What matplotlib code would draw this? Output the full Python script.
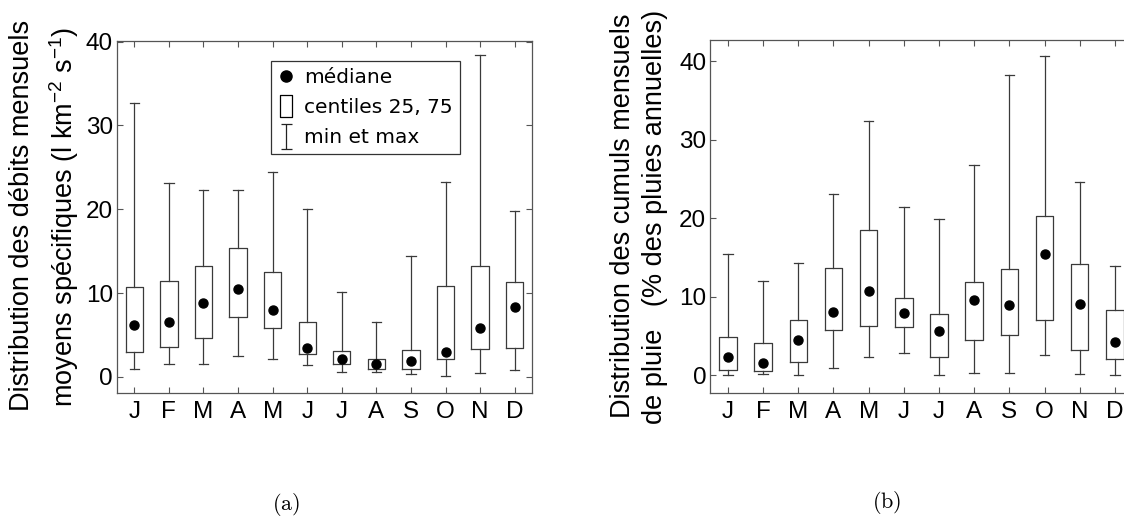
import matplotlib.pyplot as plt
from matplotlib.lines import Line2D
from matplotlib.path import Path

plt.rcParams['font.family'] = ['Liberation Sans', 'DejaVu Sans']
plt.rcParams['mathtext.fontset'] = 'custom'
plt.rcParams['mathtext.rm'] = 'Liberation Sans'
plt.rcParams['mathtext.default'] = 'regular'

MONTHS = ['J', 'F', 'M', 'A', 'M', 'J', 'J', 'A', 'S', 'O', 'N', 'D']

# (a) debits mensuels specifiques (l km-2 s-1)
deb_min = [0.95, 1.6, 1.5, 2.5, 2.15, 1.45, 0.6, 0.6, 0.32, 0.16, 0.48, 0.83]
deb_q25 = [3.0, 3.6, 4.7, 7.1, 5.8, 2.8, 1.5, 0.95, 0.95, 2.1, 3.3, 3.4]
deb_med = [6.2, 6.6, 8.8, 10.5, 7.95, 3.4, 2.15, 1.5, 1.9, 3.0, 5.85, 8.4]
deb_q75 = [10.7, 11.5, 13.3, 15.35, 12.5, 6.6, 3.05, 2.15, 3.2, 10.85, 13.3, 11.35]
deb_max = [32.7, 23.2, 22.3, 22.3, 24.5, 20.0, 10.1, 6.6, 14.4, 23.3, 38.4, 19.85]

# (b) cumuls mensuels de pluie (% des pluies annuelles)
plu_min = [0.0, 0.13, 0.05, 1.0, 2.35, 2.8, 0.0, 0.25, 0.35, 2.6, 0.13, 0.0]
plu_q25 = [0.75, 0.55, 1.65, 5.75, 6.25, 6.1, 2.4, 4.45, 5.15, 7.0, 3.25, 2.05]
plu_med = [2.4, 1.55, 4.45, 8.1, 10.8, 8.0, 5.7, 9.6, 8.9, 15.45, 9.1, 4.25]
plu_q75 = [4.85, 4.1, 7.0, 13.7, 18.5, 9.8, 7.85, 11.85, 13.6, 20.25, 14.2, 8.3]
plu_max = [15.4, 12.0, 14.3, 23.1, 32.4, 21.4, 19.85, 26.8, 38.3, 40.7, 24.6, 13.9]

EDGE = '#3a3a3a'


def draw_boxes(ax, lo, q1, med, q3, hi):
    stats = []
    for i in range(len(MONTHS)):
        stats.append({'whislo': lo[i], 'q1': q1[i], 'med': med[i],
                      'q3': q3[i], 'whishi': hi[i], 'fliers': []})
    pos = list(range(1, len(MONTHS) + 1))
    ax.bxp(stats, positions=pos, widths=0.5, capwidths=0.27, showfliers=False,
           boxprops=dict(color=EDGE, linewidth=0.9),
           whiskerprops=dict(color=EDGE, linewidth=0.9),
           capprops=dict(color=EDGE, linewidth=0.9),
           medianprops=dict(linewidth=0))
    ax.plot(pos, med, 'o', color='black', markersize=6.5, zorder=5)
    ax.set_xlim(0.5, 12.5)
    ax.set_xticks(pos)
    ax.set_xticklabels(MONTHS)
    ax.set_yticks([0, 10, 20, 30, 40])
    ax.tick_params(direction='in', top=True, right=True, length=4,
                   width=0.8, color='#555555', labelsize=17.5)
    ax.tick_params(axis='x', pad=6)
    ax.tick_params(axis='y', pad=3)
    for s in ax.spines.values():
        s.set_color('#555555')
        s.set_linewidth(0.9)


fig = plt.figure(figsize=(11.24, 5.16), dpi=100)
ax1 = fig.add_axes([0.1041, 0.239, 0.3692, 0.6822])
ax2 = fig.add_axes([0.6320, 0.239, 0.3755, 0.6835])

draw_boxes(ax1, deb_min, deb_q25, deb_med, deb_q75, deb_max)
ax1.set_ylim(-1.87, 40.12)
draw_boxes(ax2, plu_min, plu_q25, plu_med, plu_q75, plu_max)
ax2.set_ylim(-2.2, 42.7)

# legend handles
rect = Path([(-0.25, -0.5), (0.25, -0.5), (0.25, 0.5), (-0.25, 0.5), (-0.25, -0.5)],
            [Path.MOVETO, Path.LINETO, Path.LINETO, Path.LINETO, Path.CLOSEPOLY])
ibeam = Path([(-0.22, 0.5), (0.22, 0.5), (0, 0.5), (0, -0.5), (-0.22, -0.5), (0.22, -0.5)],
             [Path.MOVETO, Path.LINETO, Path.MOVETO, Path.LINETO, Path.MOVETO, Path.LINETO])
handles = [
    Line2D([], [], ls='none', marker='o', color='black', markersize=8),
    Line2D([], [], ls='none', marker=rect, markerfacecolor='white',
           markeredgecolor='black', markersize=16, markeredgewidth=0.9),
    Line2D([], [], ls='none', marker=ibeam, markeredgecolor='#222222',
           markersize=18, markeredgewidth=0.9),
]
leg = ax1.legend(handles, ['médiane', 'centiles 25, 75', 'min et max'],
                 loc='upper left', bbox_to_anchor=(0.371, 0.943), borderaxespad=0,
                 prop={'family': 'DejaVu Sans', 'size': 14.5}, fancybox=False,
                 edgecolor='#333333', framealpha=1, handlelength=0.8,
                 handletextpad=0.5, labelspacing=0.55, borderpad=0.35)
leg.get_frame().set_linewidth(0.9)

# y labels
fig.text(22 / 1124, 1 - 215 / 516, 'Distribution des débits mensuels',
         rotation=90, ha='center', va='center', fontsize=19.5)
fig.text(64 / 1124, 1 - 217 / 516, 'moyens spécifiques (l km$^{-2}$ s$^{-1}$)',
         rotation=90, ha='center', va='center', fontsize=19.5)
fig.text(623 / 1124, 1 - 216 / 516, 'Distribution des cumuls mensuels',
         rotation=90, ha='center', va='center', fontsize=19.5)
fig.text(655 / 1124, 1 - 217 / 516, 'de pluie   (% des pluies annuelles)',
         rotation=90, ha='center', va='center', fontsize=19.5)

# captions
fig.text(285.7 / 1124, 1 - 504 / 516, r'$\mathrm{(a)}$', ha='center', va='center',
         fontsize=16, math_fontfamily='cm')
fig.text(886.7 / 1124, 1 - 503 / 516, r'$\mathrm{(b)}$', ha='center', va='center',
         fontsize=16, math_fontfamily='cm')

fig.savefig('out.png', dpi=100)
